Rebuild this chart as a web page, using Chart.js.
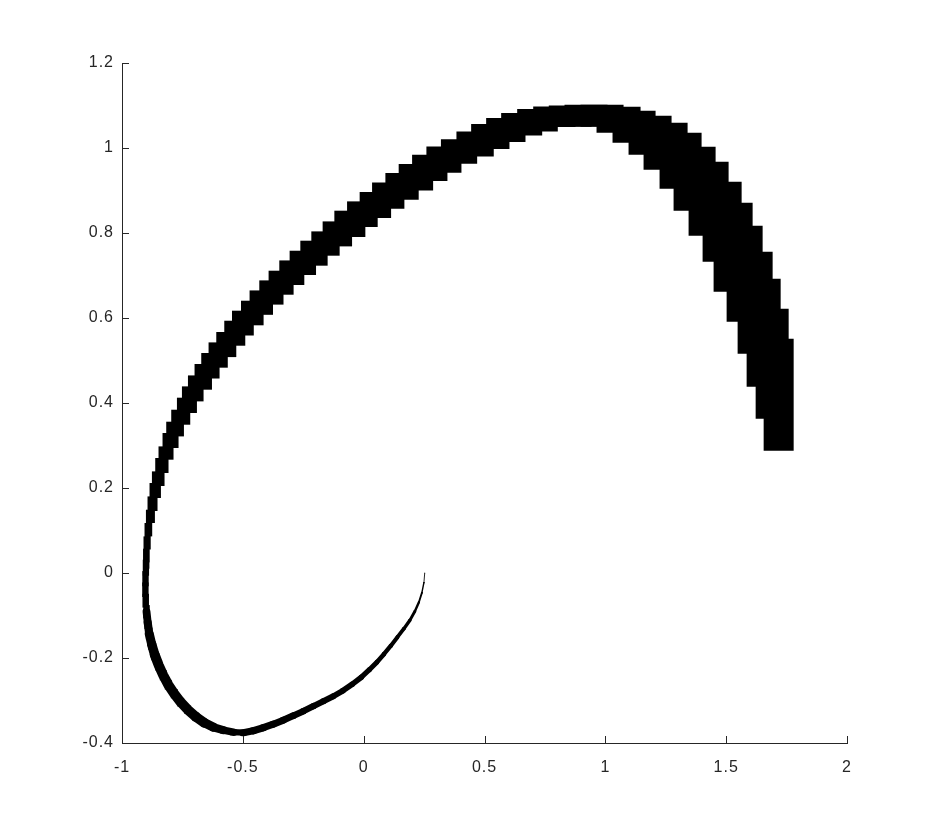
<!DOCTYPE html>
<html>
<head>
<meta charset="utf-8">
<script src="https://cdn.jsdelivr.net/npm/chart.js@4.4.0/dist/chart.umd.min.js"></script>
<style>
  html, body { margin: 0; padding: 0; background: #fff; }
  #wrap { width: 936px; height: 836px; }
</style>
</head>
<body>
<div id="wrap"><canvas id="chart" width="936" height="836"></canvas></div>
<script>
// interval boxes along the trajectory, in time order (data units)
const boxXMin = [
  0.2509, 0.2468, 0.2379, 0.2248, 0.2077, 0.1863, 0.1609, 0.1335, 0.1062, 0.0768,
  0.0474, 0.0159, -0.0176, -0.0553, -0.0950, -0.1348, -0.1766, -0.2184, -0.2603, -0.3021,
  -0.3439, -0.3857, -0.4275, -0.4694, -0.5112, -0.5528, -0.5944, -0.6360, -0.6735, -0.7089,
  -0.7420, -0.7710, -0.7979, -0.8228, -0.8435, -0.8619, -0.8785, -0.8907, -0.9010, -0.9070,
  -0.9120, -0.9153, -0.9164, -0.9160, -0.9141, -0.9128,
  -0.9110, -0.9068, -0.9010, -0.8944, -0.8861, -0.8762, -0.8625, -0.8489, -0.8323,
  -0.8170, -0.7963, -0.7727, -0.7520, -0.7271, -0.6998, -0.6721, -0.6418, -0.6099, -0.5768,
  -0.5449, -0.5077, -0.4721, -0.4319, -0.3934, -0.3491, -0.3064, -0.2621, -0.2166, -0.1698,
  -0.1213, -0.0687, -0.0166, 0.0348, 0.0899, 0.1449, 0.2004, 0.2596, 0.3197, 0.3839,
  0.4447, 0.5068, 0.5689, 0.6352, 0.7015, 0.7660, 0.8311, 0.8973, 0.9636, 1.0298,
  1.0961, 1.1582, 1.2244, 1.2824, 1.3445, 1.4025, 1.4480, 1.5019, 1.5474, 1.5847,
  1.6220, 1.6551
];
const boxXMax = [
  0.2542, 0.2518, 0.2441, 0.2323, 0.2164, 0.1963, 0.1721, 0.1456, 0.1190, 0.0905,
  0.0619, 0.0313, -0.0014, -0.0383, -0.0772, -0.1162, -0.1571, -0.1981, -0.2391, -0.2801,
  -0.3211, -0.3621, -0.4031, -0.4441, -0.4851, -0.5263, -0.5675, -0.6087, -0.6458, -0.6807,
  -0.7139, -0.7429, -0.7698, -0.7946, -0.8153, -0.8342, -0.8507, -0.8634, -0.8737, -0.8801,
  -0.8851, -0.8884, -0.8899, -0.8895, -0.8880, -0.8868,
  -0.8861, -0.8812, -0.8750, -0.8638, -0.8530, -0.8389, -0.8240, -0.8075, -0.7868,
  -0.7660, -0.7437, -0.7176, -0.6899, -0.6625, -0.6277, -0.5963, -0.5623, -0.5271, -0.4899,
  -0.4547, -0.4141, -0.3752, -0.3317, -0.2899, -0.2456, -0.1971, -0.1491, -0.0994, -0.0480,
  0.0070, 0.0580, 0.1135, 0.1685, 0.2277, 0.2874, 0.3466, 0.4046, 0.4696, 0.5383,
  0.6033, 0.6696, 0.7387, 0.8033, 0.8766, 0.9429, 1.0091, 1.0754, 1.1458, 1.2079,
  1.2741, 1.3404, 1.3983, 1.4563, 1.5101, 1.5640, 1.6095, 1.6509, 1.6923, 1.7255,
  1.7586, 1.7793
];
const boxYMin = [
  -0.0014, -0.0242, -0.0481, -0.0708, -0.0924, -0.1139, -0.1342, -0.1545, -0.1747, -0.1949,
  -0.2140, -0.2319, -0.2498, -0.2665, -0.2820, -0.2952, -0.3071, -0.3191, -0.3311, -0.3419,
  -0.3527, -0.3624, -0.3708, -0.3781, -0.3828, -0.3820, -0.3776, -0.3711, -0.3609, -0.3473,
  -0.3313, -0.3142, -0.2948, -0.2742, -0.2525, -0.2295, -0.2054, -0.1813, -0.1572, -0.1319,
  -0.1066, -0.0814, -0.0564, -0.0313, -0.0064, 0.0101,
  0.0249, 0.0553, 0.0861, 0.1176, 0.1459, 0.1765, 0.2047, 0.2353, 0.2666,
  0.2941, 0.3214, 0.3489, 0.3765, 0.4038, 0.4313, 0.4576, 0.4831, 0.5080, 0.5348,
  0.5588, 0.5828, 0.6075, 0.6315, 0.6548, 0.6776, 0.7012, 0.7231, 0.7466, 0.7685,
  0.7906, 0.8141, 0.8353, 0.8572, 0.8784, 0.9002, 0.9224, 0.9419, 0.9631, 0.9802,
  0.9976, 1.0141, 1.0296, 1.0391, 1.0494, 1.0501, 1.0506, 1.0501, 1.0360, 1.0125,
  0.9842, 0.9489, 0.9042, 0.8525, 0.7936, 0.7325, 0.6619, 0.5913, 0.5160, 0.4384,
  0.3631, 0.2878
];
const boxYMax = [
  0.0005, -0.0214, -0.0446, -0.0666, -0.0874, -0.1082, -0.1279, -0.1476, -0.1674, -0.1872,
  -0.2058, -0.2232, -0.2406, -0.2568, -0.2719, -0.2846, -0.2962, -0.3078, -0.3193, -0.3296,
  -0.3400, -0.3492, -0.3572, -0.3640, -0.3687, -0.3672, -0.3621, -0.3546, -0.3435, -0.3289,
  -0.3120, -0.2938, -0.2732, -0.2514, -0.2285, -0.2044, -0.1791, -0.1538, -0.1285, -0.1020,
  -0.0755, -0.0489, -0.0222, 0.0045, 0.0313, 0.0572,
  0.0861, 0.1176, 0.1489, 0.1802, 0.2118, 0.2391, 0.2706, 0.2979, 0.3294,
  0.3560, 0.3842, 0.4125, 0.4391, 0.4649, 0.4918, 0.5176, 0.5426, 0.5671, 0.5936,
  0.6172, 0.6407, 0.6649, 0.6885, 0.7113, 0.7355, 0.7583, 0.7819, 0.8038, 0.8273,
  0.8525, 0.8744, 0.8965, 0.9191, 0.9412, 0.9624, 0.9842, 1.0038, 1.0207, 1.0391,
  1.0565, 1.0706, 1.0824, 1.0918, 1.0979, 1.1002, 1.1019, 1.1019, 1.0972, 1.0878,
  1.0760, 1.0595, 1.0360, 1.0031, 0.9678, 0.9207, 0.8713, 0.8172, 0.7560, 0.6925,
  0.6219, 0.5513
];

const xTicks = [-1, -0.5, 0, 0.5, 1, 1.5, 2];
const yTicks = [-0.4, -0.2, 0, 0.2, 0.4, 0.6, 0.8, 1, 1.2];

const axisColor = '#262626';
const tickFont = { family: "'Liberation Sans', Arial, Helvetica, sans-serif", size: 16 };

// each box becomes one closed shape, boxes separated by a gap point
const boxPoints = [];
for (let i = 0; i < boxXMin.length; i++) {
  boxPoints.push({ x: boxXMin[i], y: boxYMin[i] });
  boxPoints.push({ x: boxXMax[i], y: boxYMin[i] });
  boxPoints.push({ x: boxXMax[i], y: boxYMax[i] });
  boxPoints.push({ x: boxXMin[i], y: boxYMax[i] });
  boxPoints.push({ x: null, y: null });
}
// box centres, joined where the boxes are too small to touch
const centers = boxXMin.map((x, i) => ({ x: (x + boxXMax[i]) / 2, y: (boxYMin[i] + boxYMax[i]) / 2 }));

function boxSizePx(chart, i) {
  const xs = chart.scales.x, ys = chart.scales.y;
  return {
    w: Math.abs(xs.getPixelForValue(boxXMax[i]) - xs.getPixelForValue(boxXMin[i])),
    h: Math.abs(ys.getPixelForValue(boxYMax[i]) - ys.getPixelForValue(boxYMin[i]))
  };
}

function joinStyle(ctx) {
  const a = boxSizePx(ctx.chart, ctx.p0DataIndex);
  const b = boxSizePx(ctx.chart, ctx.p1DataIndex);
  const dx = Math.abs(ctx.p1.x - ctx.p0.x);
  const dy = Math.abs(ctx.p1.y - ctx.p0.y);
  const len = Math.hypot(dx, dy) || 1;
  const gap = Math.max(dx - (a.w + b.w) / 2, dy - (a.h + b.h) / 2);
  const width = Math.min(10, Math.max(0.8, (a.w * dy + a.h * dx) / len));
  return { gap, width };
}

const inwardTicks = {
  id: 'inwardTicks',
  beforeDraw(chart) {
    chart.ctx.letterSpacing = '1px';
  },
  afterDraw(chart) {
    const { ctx, chartArea: a, scales: { x, y } } = chart;
    ctx.save();
    ctx.strokeStyle = axisColor;
    ctx.lineWidth = 1;
    ctx.beginPath();
    xTicks.forEach(v => {
      const px = Math.round(x.getPixelForValue(v)) + 0.5;
      ctx.moveTo(px, a.bottom);
      ctx.lineTo(px, a.bottom - 7);
    });
    yTicks.forEach(v => {
      const py = Math.round(y.getPixelForValue(v)) + 0.5;
      ctx.moveTo(a.left, py);
      ctx.lineTo(a.left + 7, py);
    });
    ctx.stroke();
    ctx.restore();
  }
};

new Chart(document.getElementById('chart'), {
  type: 'line',
  data: {
    datasets: [
      {
        label: 'boxes',
        data: boxPoints,
        fill: 'shape',
        backgroundColor: '#000',
        borderWidth: 0,
        pointRadius: 0,
        spanGaps: false,
        tension: 0
      },
      {
        label: 'path',
        data: centers,
        fill: false,
        borderColor: '#000',
        borderWidth: 1,
        borderCapStyle: 'round',
        borderJoinStyle: 'round',
        pointRadius: 0,
        tension: 0,
        segment: {
          borderWidth: ctx => joinStyle(ctx).width,
          borderColor: ctx => joinStyle(ctx).gap > -2 ? '#000' : 'rgba(0,0,0,0)'
        }
      }
    ]
  },
  options: {
    responsive: false,
    animation: false,
    devicePixelRatio: 1,
    layout: { padding: { left: 0, right: 89, top: 63, bottom: 0 } },
    plugins: { legend: { display: false }, tooltip: { enabled: false } },
    scales: {
      x: {
        type: 'linear',
        min: -1,
        max: 2,
        afterBuildTicks: s => { s.ticks = xTicks.map(v => ({ value: v })); },
        afterFit: s => { s.height = 93; },
        grid: { display: false, drawTicks: false },
        border: { display: true, color: axisColor, width: 1 },
        ticks: {
          color: axisColor, font: tickFont, padding: 15,
          maxRotation: 0, autoSkip: false,
          callback: v => String(v)
        }
      },
      y: {
        type: 'linear',
        min: -0.4,
        max: 1.2,
        afterBuildTicks: s => { s.ticks = yTicks.map(v => ({ value: v })); },
        afterFit: s => { s.width = 122; },
        grid: { display: false, drawTicks: false },
        border: { display: true, color: axisColor, width: 1 },
        ticks: {
          color: axisColor, font: tickFont, padding: 8,
          autoSkip: false,
          callback: v => String(v)
        }
      }
    }
  },
  plugins: [inwardTicks]
});
</script>
</body>
</html>
